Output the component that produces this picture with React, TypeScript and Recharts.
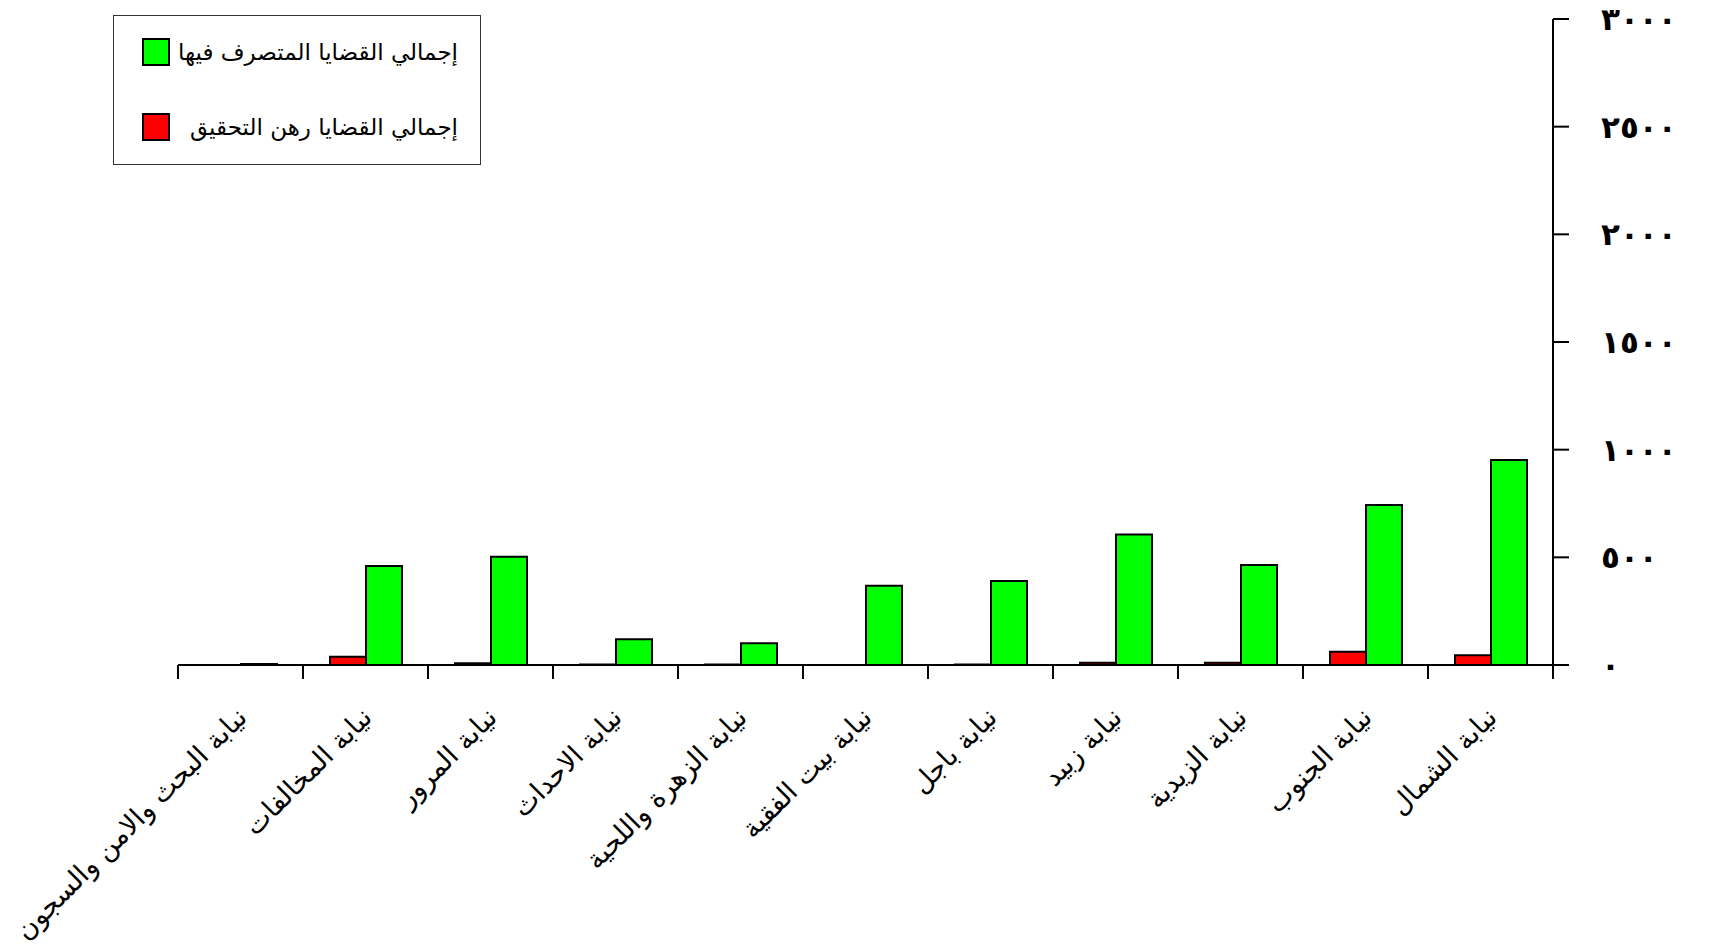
import { Bar, BarChart, XAxis, YAxis } from 'recharts';

const categories = [
  'نيابة البحث والامن والسجون',
  'نيابة المخالفات',
  'نيابة المرور',
  'نيابة الاحداث',
  'نيابة الزهرة واللحية',
  'نيابة بيت الفقية',
  'نيابة باجل',
  'نيابة زبيد',
  'نيابة الزيدية',
  'نيابة الجنوب',
  'نيابة الشمال',
];

// إجمالي القضايا رهن التحقيق
const pending = [0, 38, 8, 2, 2, 0, 2, 10, 10, 62, 45];
// إجمالي القضايا المتصرف فيها
const disposed = [5, 460, 503, 120, 101, 368, 390, 606, 464, 743, 952];

const yTicks = [0, 500, 1000, 1500, 2000, 2500, 3000];
const yTickLabels = ['٠', '٥٠٠', '١٠٠٠', '١٥٠٠', '٢٠٠٠', '٢٥٠٠', '٣٠٠٠'];

const series = [
  { key: 'pending', name: 'إجمالي القضايا رهن التحقيق', color: '#ff0000' },
  { key: 'disposed', name: 'إجمالي القضايا المتصرف فيها', color: '#00ff00' },
];

const data = categories.map((name, i) => ({
  name,
  pending: pending[i],
  disposed: disposed[i],
}));

const arabicFont = "'DejaVu Sans', 'Noto Sans', sans-serif";

// label rotated -45deg, plus tick marks on the band edges
const CategoryTick = ({ x, y, payload, index, width, visibleTicksCount }: any) => {
  const half = payload.offset || width / (visibleTicksCount * 2);
  const last = index === visibleTicksCount - 1;
  return (
    <g>
      <line x1={x - half} x2={x - half} y1={y} y2={y + 14} stroke="#000" strokeWidth={2} />
      {last && (
        <line x1={x + half} x2={x + half} y1={y} y2={y + 14} stroke="#000" strokeWidth={2} />
      )}
      <text
        x={x + 8}
        y={y + 54}
        transform={`rotate(-45, ${x + 8}, ${y + 54})`}
        textAnchor="end"
        fontSize={27}
        fontFamily={arabicFont}
        fill="#000"
      >
        {payload.value}
      </text>
    </g>
  );
};

const ValueTick = ({ x, y, payload }: any) => (
  <text
    x={x}
    y={y}
    dy="0.35em"
    textAnchor="start"
    fontSize={31}
    fontWeight="bold"
    fontFamily={arabicFont}
    letterSpacing={8}
    fill="#000"
  >
    {yTickLabels[yTicks.indexOf(payload.value)]}
  </text>
);

const ChartLegend = () => (
  <div
    style={{
      position: 'absolute',
      top: 7,
      left: 105,
      width: 368,
      height: 150,
      border: '1px solid #333',
      background: '#fff',
      boxSizing: 'border-box',
    }}
  >
    {[series[1], series[0]].map((s, i) => (
      <div
        key={s.key}
        style={{
          position: 'absolute',
          left: 28,
          right: 22,
          top: 20 + i * 75,
          height: 32,
          display: 'flex',
          alignItems: 'center',
        }}
      >
        <span
          style={{
            width: 24,
            height: 24,
            background: s.color,
            border: '2px solid #000',
            flexShrink: 0,
          }}
        />
        <span
          style={{
            flex: 1,
            textAlign: 'right',
            fontSize: 23,
            fontFamily: arabicFont,
            color: '#000',
          }}
        >
          {s.name}
        </span>
      </div>
    ))}
  </div>
);

export default function App() {
  return (
    <div style={{ position: 'relative', width: 1700, height: 935 }}>
      <BarChart
        width={1700}
        height={935}
        data={data}
        margin={{ top: 11, right: 55, left: 170, bottom: 0 }}
        barSize={36}
        barGap={0}
      >
        <XAxis
          dataKey="name"
          interval={0}
          tickLine={false}
          axisLine={{ stroke: '#000', strokeWidth: 2 }}
          tickSize={0}
          tickMargin={0}
          height={278}
          tick={<CategoryTick />}
        />
        <YAxis
          orientation="right"
          width={100}
          domain={[0, 3000]}
          ticks={yTicks}
          tickSize={16}
          tickMargin={32}
          axisLine={{ stroke: '#000', strokeWidth: 2 }}
          tickLine={{ stroke: '#000', strokeWidth: 2 }}
          tick={<ValueTick />}
        />
        {series.map((s) => (
          <Bar
            key={s.key}
            dataKey={s.key}
            name={s.name}
            fill={s.color}
            stroke="#000"
            strokeWidth={2}
            isAnimationActive={false}
          />
        ))}
      </BarChart>
      <ChartLegend />
    </div>
  );
}
